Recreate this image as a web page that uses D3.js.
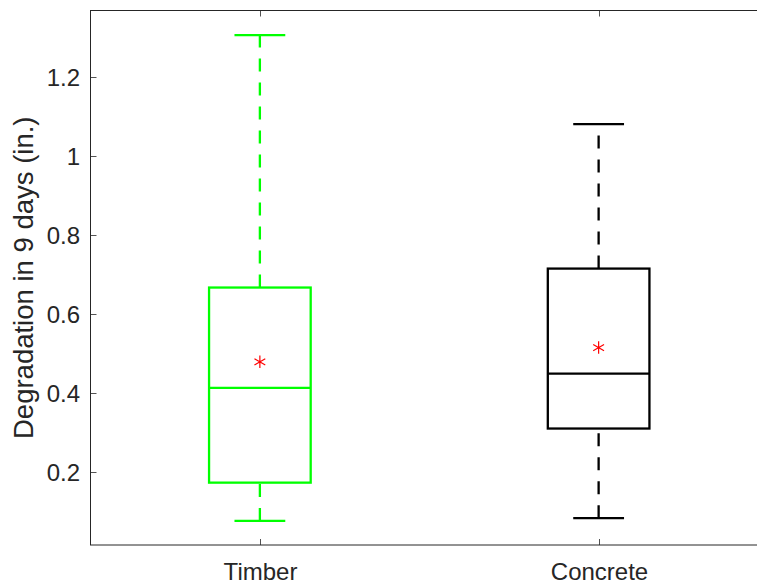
<!DOCTYPE html>
<html>
<head>
<meta charset="utf-8">
<script src="https://cdn.jsdelivr.net/npm/d3@7"></script>
<style>
  html, body { margin: 0; padding: 0; background: #fff; }
  svg { display: block; }
  text { font-family: "Liberation Sans", Arial, Helvetica, sans-serif; fill: #262626; }
</style>
</head>
<body>
<svg id="chart" width="757" height="585"></svg>
<script>
// Degradation over 9 days, per material
const categories   = ["Timber", "Concrete"];
const whiskerLow   = [0.077, 0.084];
const quartile1    = [0.174, 0.311];
const medians      = [0.414, 0.450];
const quartile3    = [0.668, 0.716];
const whiskerHigh  = [1.307, 1.082];
const means        = [0.480, 0.516];
const boxColors    = ["#00ff00", "#000000"];
const yTicks       = [0.2, 0.4, 0.6, 0.8, 1.0, 1.2];
const yLabel       = "Degradation in 9 days (in.)";

const svg = d3.select("#chart");
const axisColor = "#262626";

// plot area (right edge extends past the window)
const plotLeft = 90.5, plotRight = 768, plotTop = 10.5, plotBottom = 545;

const x = d3.scaleLinear().domain([0.5, 2.5]).range([plotLeft, plotRight]);
const y = d3.scaleLinear().domain([0.0161, 1.3695]).range([plotBottom, plotTop]);

const boxW = 0.3, capW = 0.15;

const data = categories.map((c, i) => ({
  name: c, pos: i + 1, lo: whiskerLow[i], q1: quartile1[i], med: medians[i],
  q3: quartile3[i], hi: whiskerHigh[i], mean: means[i], color: boxColors[i]
}));

// axes frame and ticks
const axes = svg.append("g");
axes.append("rect")
  .attr("x", plotLeft).attr("y", plotTop)
  .attr("width", plotRight - plotLeft).attr("height", plotBottom - plotTop)
  .attr("fill", "none").attr("stroke", axisColor).attr("stroke-width", 1);

const tickLen = 6;
yTicks.forEach(v => {
  const ty = Math.round(y(v)) + 0.5;
  axes.append("line").attr("x1", plotLeft).attr("x2", plotLeft + tickLen)
    .attr("y1", ty).attr("y2", ty).attr("stroke", axisColor).attr("stroke-width", 0.8);
  axes.append("text").attr("x", plotLeft - 10.5).attr("y", ty)
    .attr("dy", "0.35em").attr("text-anchor", "end")
    .attr("font-size", 24).text(d3.format("~g")(v));
});

data.forEach(d => {
  const tx = Math.round(x(d.pos)) + 0.5;
  axes.append("line").attr("x1", tx).attr("x2", tx)
    .attr("y1", plotBottom).attr("y2", plotBottom - tickLen).attr("stroke", axisColor).attr("stroke-width", 0.8);
  axes.append("line").attr("x1", tx).attr("x2", tx)
    .attr("y1", plotTop).attr("y2", plotTop + tickLen).attr("stroke", axisColor).attr("stroke-width", 0.8);
  axes.append("text").attr("x", tx).attr("y", 580)
    .attr("text-anchor", "middle").attr("font-size", 24).text(d.name);
});

svg.append("text")
  .attr("transform", `translate(33,${(plotTop + plotBottom) / 2}) rotate(-90)`)
  .attr("text-anchor", "middle").attr("font-size", 27.5).text(yLabel);

// boxes
const g = svg.append("g").selectAll("g").data(data).join("g");

// whiskers, drawn from the lower value up to the higher one
g.append("line")
  .attr("x1", d => x(d.pos)).attr("x2", d => x(d.pos))
  .attr("y1", d => y(d.q3)).attr("y2", d => y(d.hi))
  .attr("stroke", d => d.color).attr("stroke-width", 2.3)
  .attr("stroke-dasharray", "13,11");
g.append("line")
  .attr("x1", d => x(d.pos)).attr("x2", d => x(d.pos))
  .attr("y1", d => y(d.lo)).attr("y2", d => y(d.q1))
  .attr("stroke", d => d.color).attr("stroke-width", 2.3)
  .attr("stroke-dasharray", "13,11");

// whisker caps
["hi", "lo"].forEach(k => {
  g.append("line")
    .attr("x1", d => x(d.pos - capW / 2)).attr("x2", d => x(d.pos + capW / 2))
    .attr("y1", d => y(d[k])).attr("y2", d => y(d[k]))
    .attr("stroke", d => d.color).attr("stroke-width", 2.3);
});

// interquartile box
g.append("rect")
  .attr("x", d => x(d.pos - boxW / 2))
  .attr("width", d => x(d.pos + boxW / 2) - x(d.pos - boxW / 2))
  .attr("y", d => y(d.q3))
  .attr("height", d => y(d.q1) - y(d.q3))
  .attr("fill", "none").attr("stroke", d => d.color).attr("stroke-width", 2.3);

// median line
g.append("line")
  .attr("x1", d => x(d.pos - boxW / 2)).attr("x2", d => x(d.pos + boxW / 2))
  .attr("y1", d => y(d.med)).attr("y2", d => y(d.med))
  .attr("stroke", d => d.color).attr("stroke-width", 2.3);

// mean marker
g.append("path")
  .attr("transform", d => `translate(${x(d.pos)},${y(d.mean)})`)
  .attr("d", d3.symbol(d3.symbolAsterisk, 110)())
  .attr("fill", "none").attr("stroke", "#ff0000").attr("stroke-width", 1.2);
</script>
</body>
</html>
